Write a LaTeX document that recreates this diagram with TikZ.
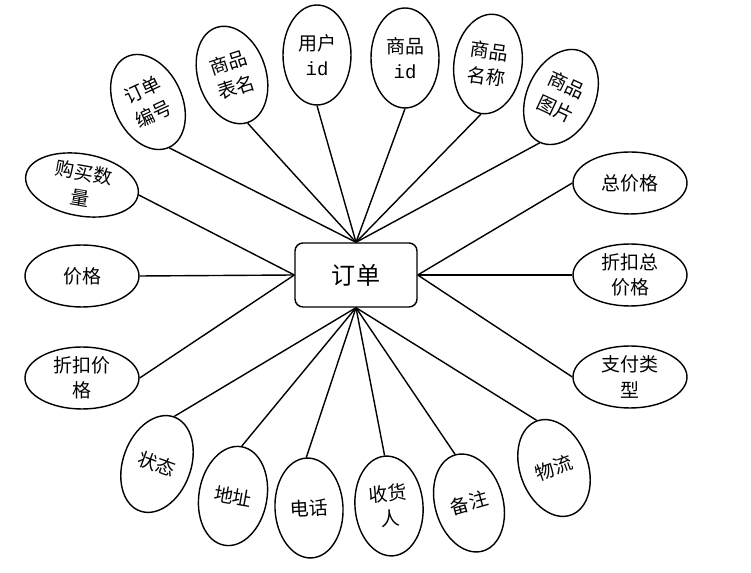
\documentclass[tikz,border=0pt]{standalone}
\usepackage{fontspec}
\setmainfont{Noto Sans CJK SC}
\newfontfamily\idf{Liberation Mono}
\usetikzlibrary{shapes.geometric}
\tikzset{
  attrv/.style={draw,ellipse,line width=0.8pt,minimum width=1.36cm,minimum height=2cm,
    inner sep=0pt,align=center,font=\fontsize{10.8}{14.5}\selectfont},
  attrh/.style={attrv,minimum width=2.28cm,minimum height=1.24cm},
  ent/.style={draw,rounded corners=0.16cm,line width=0.8pt,minimum width=2.44cm,
    minimum height=1.28cm,font=\fontsize{13.7}{16}\selectfont},
  link/.style={line width=0.8pt}
}
\begin{document}
\begin{tikzpicture}[x=0.02cm,y=-0.02cm]
  \useasboundingbox (0,0) rectangle (751,573);
  % Entidad
  \node[ent] (dd) at (356,275) {订单};
  % Atributos arriba y abajo (elipses verticales)
  \foreach \n/\x/\y/\rot/\txt/\an/\bn in {
      ddbh/148/102/25/{订单\\编号}/south/north,
      spbm/232/75/18/{商品\\表名}/south/north,
      yhid/317/55/0/{用户\\{\idf id}}/south/north,
      spid/405/58/0/{商品\\{\idf id}}/south/north,
      spmc/488/64/-8/{商品\\名称}/south/north,
      sptp/561/97/-25/{商品\\图片}/south/north,
      zt/157/464/-20/{状态}/north/south,
      dz/233/496/-10/{地址}/north/south,
      dh/309/508/3/{电话}/north/south,
      shr/389/506/5/{收货\\人}/north/south,
      bz/469/503/16/{备注}/north/south,
      wl/554/468/20/{物流}/north/south} {
    \node[attrv,rotate=\rot] (\n) at (\x,\y) {\txt};
    \draw[link] (dd.\bn) -- (\n.\an);
  }
  % Atributos a los lados (elipses horizontales)
  \foreach \n/\x/\y/\rot/\txt/\an/\bn in {
      gmsl/82/185/-10/{购买数\\量}/east/west,
      jg/82/276/0/{价格}/east/west,
      zkjg/82/378/0/{折扣价\\格}/east/west,
      zjg/630/183/0/{总价格}/west/east,
      zkzjg/630/275/0/{折扣总\\价格}/west/east,
      zflx/630/377/0/{支付类\\型}/west/east} {
    \node[attrh,rotate=\rot] (\n) at (\x,\y) {\txt};
    \draw[link] (dd.\bn) -- (\n.\an);
  }
\end{tikzpicture}
\end{document}
